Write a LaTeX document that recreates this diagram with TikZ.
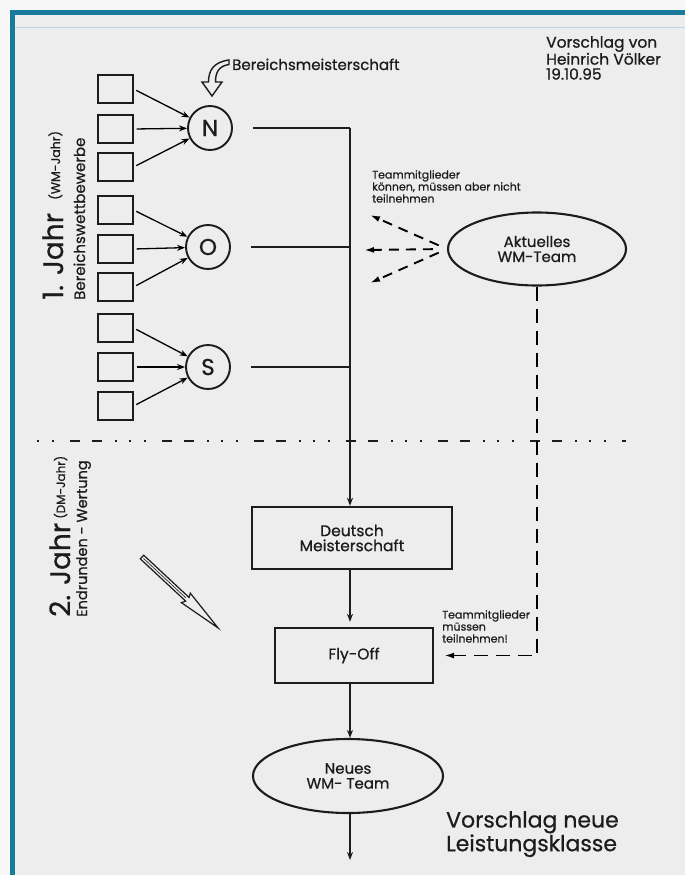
\documentclass[tikz,border=0pt]{standalone}
\usepackage{fontspec}
\setmainfont{Poppins}[UprightFeatures={FakeBold=0.7}]
\usetikzlibrary{arrows.meta,shapes.geometric}

\definecolor{frameBlue}{HTML}{1A7A9C}
\definecolor{paper}    {HTML}{EDEDED}
\definecolor{paperOut} {HTML}{F7F7F7}
\definecolor{ink}      {HTML}{1C1C1C}

\tikzset{
  field/.style  ={draw=ink, line width=1.2pt, minimum width=35pt,
                  minimum height=28pt, inner sep=0pt},
  region/.style ={draw=ink, circle, line width=1.9pt, minimum size=44pt,
                  inner sep=0pt, font=\fontsize{23}{23}\selectfont},
  stage/.style  ={draw=ink, line width=2.3pt, inner sep=0pt, align=center,
                  font=\fontsize{15.5}{15}\selectfont},
  team/.style   ={draw=ink, ellipse, line width=2.1pt, inner sep=0pt,
                  align=center, font=\fontsize{15}{15}\selectfont},
  note/.style   ={align=left, inner sep=0pt, font=\fontsize{11}{12}\selectfont},
  feed/.style   ={->, line width=1.3pt, shorten <=3pt},
  maybe/.style  ={-{Latex[length=10pt,width=6pt]}, line width=1.9pt,
                  dash pattern=on 10pt off 7pt},
  must/.style   ={-{Latex[length=10pt,width=6pt]}, line width=1.9pt,
                  dash pattern=on 14pt off 8pt},
  main/.style   ={ink, line width=2.1pt},
}

\begin{document}
\begin{tikzpicture}[x=1pt, y=-1pt, text=ink, >={Stealth[length=8pt,width=6pt]}]
  \useasboundingbox (0,0) rectangle (685,875);
  \fill[paperOut] (0,0) rectangle (685,875);
  \fill[paper] (12,12) rectangle (685,875);
  \draw[frameBlue!30, line width=1pt] (15,28) -- (685,28);
  \draw[frameBlue, line width=5pt] (12.5,875) -- (12.5,12.5) -- (685,12.5);

  % author, top right
  \node[anchor=north west, align=left, inner sep=0pt,
        font=\fontsize{15.5}{15}\selectfont] (author) at (546,36)
        {Vorschlag von\\Heinrich Völker\\19.10.95};

  % hollow arrow to the regions
  \draw[ink, line width=1.4pt, fill=paper] (212,96) -- (202,82) -- (208.5,82)
        .. controls (208.5,70) and (214,62) .. (229,60) -- (229,64.5)
        .. controls (219,66) and (215.5,72) .. (215.5,82) -- (222,82) -- cycle;
  \node[anchor=base west, inner sep=0pt, font=\fontsize{15}{15}\selectfont]
        (bm) at (232,70) {Bereichsmeisterschaft};

  % first year
  \node[rotate=90, anchor=base west, inner sep=0pt] (yearA) at (63,300)
        {\fontsize{28}{28}\selectfont 1. Jahr\hspace{13pt}%
         \raisebox{3pt}{\fontsize{12.5}{12}\selectfont (WM-Jahr)}};
  \node[rotate=90, anchor=base west, inner sep=0pt,
        font=\fontsize{15}{15}\selectfont] (yearAsub) at (85,300)
        {Bereichswettbewerbe};

  \node[field] (q1) at (115.5,89)  {};
  \node[field] (q2) at (115.5,129) {};
  \node[field] (q3) at (115.5,167) {};
  \node[field] (q4) at (115.5,210) {};
  \node[field] (q5) at (115.5,249) {};
  \node[field] (q6) at (115.5,287) {};
  \node[field] (q7) at (115.5,328) {};
  \node[field] (q8) at (115.5,367) {};
  \node[field] (q9) at (115.5,406) {};

  \node[region] (N) at (210,128) {N};
  \node[region] (O) at (208,247) {O};
  \node[region] (S) at (208,367) {S};

  \draw[feed] (q1.east) -- (N);
  \draw[feed] (q2.east) -- (N);
  \draw[feed] (q3.east) -- (N);
  \draw[feed] (q4.east) -- (O);
  \draw[feed] (q5.east) -- (O);
  \draw[feed] (q6.east) -- (O);
  \draw[feed] (q7.east) -- (S);
  \draw[feed] (q8.east) -- (S);
  \draw[feed] (q9.east) -- (S);

  \coordinate (jN) at (350,128);
  \coordinate (jO) at (350,247);
  \coordinate (jS) at (350,367);
  \draw[main, shorten <=20pt] (N.east) -- (jN);
  \draw[main, shorten <=20pt] (O.east) -- (jO);
  \draw[main, shorten <=20pt] (S.east) -- (jS);

  % current team
  \node[team, minimum width=178pt, minimum height=73pt] (wm) at (537,249)
        {Aktuelles\\WM-Team};
  \node[note, anchor=north west] (optNote) at (372,170)
        {Teammitglieder\\können, müssen aber nicht\\teilnehmen};
  \coordinate (in1) at (370,215);
  \coordinate (in2) at (364,250);
  \coordinate (in3) at (370,283);
  \draw[maybe, shorten <=9pt] (wm.west) -- (in1);
  \draw[maybe, shorten <=14pt] (wm.west) -- (in2);
  \draw[maybe, shorten <=9pt] (wm.west) -- (in3);

  % year border
  \coordinate (sepL) at (37,441);
  \coordinate (sepR) at (626,441);
  \draw[ink, line width=2.8pt, dash phase=14pt,
        dash pattern=on 2pt off 12pt on 2pt off 13pt on 2pt off 16pt
                     on 10pt off 12pt on 10pt off 13pt] (sepL) -- (sepR);

  % second year
  \node[rotate=90, anchor=base west, inner sep=0pt] (yearB) at (70,617)
        {\fontsize{28}{28}\selectfont 2. Jahr\hspace{4pt}%
         \raisebox{5pt}{\fontsize{12}{12}\selectfont (DM-Jahr)}};
  \node[rotate=90, anchor=base west, inner sep=0pt,
        font=\fontsize{14.5}{14.5}\selectfont] (yearBsub) at (87,617)
        {Endrunden - Wertung};

  \begin{scope}[shift={(142,557)}, rotate=-43]
    \draw[ink, line width=1.2pt, fill=paper] (0,-2.5) -- (62,-2.5) -- (60,-6.5)
          -- (104,0) -- (60,6.5) -- (62,2.5) -- (0,2.5) -- cycle;
    \draw[ink, line width=0.6pt] (2,0) -- (60,0);
  \end{scope}

  \node[stage, minimum width=200pt, minimum height=62pt] (dm) at (352,538)
        {Deutsch\\Meisterschaft};
  \node[stage, minimum width=158pt, minimum height=55pt] (fly) at (354,655.5)
        {Fly-Off};
  \node[team, minimum width=190pt, minimum height=74pt] (neu) at (348,776)
        {Neues\\WM- Team};
  \coordinate (out) at (350,860);

  \draw[main, ->] (jN) -- (jN |- dm.north);
  \draw[main, ->, shorten >=5pt] (jS |- dm.south) -- (jS |- fly.north);
  \draw[main, ->] (jS |- fly.south) -- (jS |- neu.north);
  \draw[main, ->] (jS |- neu.south) -- (out);

  \draw[must, shorten >=10pt] (wm.south) |- (fly.east);
  \node[note, anchor=north west] (mustNote) at (442,610)
        {Teammitglieder\\müssen\\teilnehmen!};

  \node[anchor=north west, align=left, inner sep=0pt,
        font=\fontsize{22}{21}\selectfont] (claim) at (446,811)
        {Vorschlag neue\\Leistungsklasse};
\end{tikzpicture}
\end{document}
